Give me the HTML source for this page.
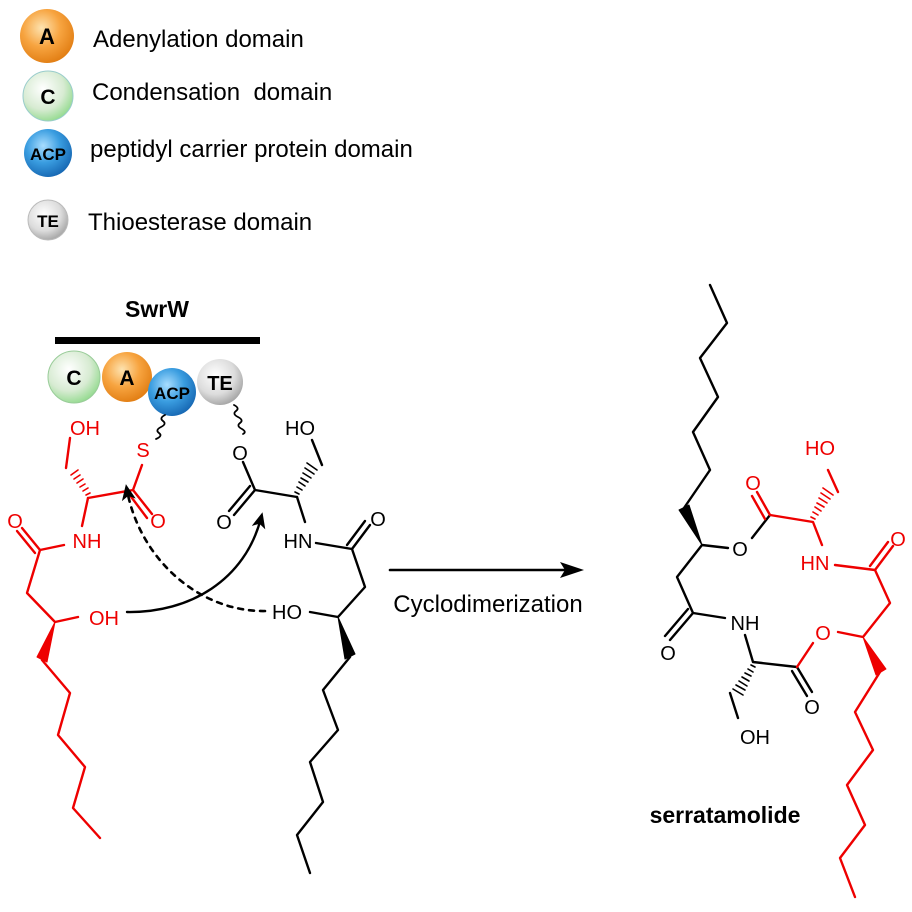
<!DOCTYPE html>
<html><head><meta charset="utf-8"><style>
html,body{margin:0;padding:0;background:#fff}
svg{display:block}
text{font-family:"Liberation Sans",Arial,sans-serif}
</style></head><body>
<svg width="912" height="912" viewBox="0 0 912 912" xmlns="http://www.w3.org/2000/svg">
<defs>
<radialGradient id="gA" cx="40%" cy="35%" r="70%"><stop offset="0" stop-color="#fde3b0"/><stop offset="0.5" stop-color="#f7a440"/><stop offset="1" stop-color="#e07b10"/></radialGradient>
<radialGradient id="gC" cx="40%" cy="35%" r="70%"><stop offset="0" stop-color="#ffffff"/><stop offset="0.6" stop-color="#d7ebd2"/><stop offset="1" stop-color="#8fd98a"/></radialGradient>
<radialGradient id="gP" cx="40%" cy="35%" r="70%"><stop offset="0" stop-color="#a8ddff"/><stop offset="0.5" stop-color="#3a9de0"/><stop offset="1" stop-color="#1464b0"/></radialGradient>
<radialGradient id="gT" cx="40%" cy="35%" r="70%"><stop offset="0" stop-color="#ffffff"/><stop offset="0.6" stop-color="#dcdcdc"/><stop offset="1" stop-color="#a0a0a0"/></radialGradient>
<marker id="ah" markerWidth="16" markerHeight="14" refX="10" refY="7" orient="auto" markerUnits="userSpaceOnUse" viewBox="0 0 16 14"><path d="M0,0 L16,7 L0,14 L4,7 Z" fill="#000"/></marker>
<marker id="ah2" markerWidth="24" markerHeight="16" refX="18" refY="8" orient="auto" markerUnits="userSpaceOnUse" viewBox="0 0 24 16"><path d="M0,0 L24,8 L0,16 L5,8 Z" fill="#000"/></marker>
</defs>

<!-- legend -->
<circle cx="47" cy="36" r="27" fill="url(#gA)"/>
<text x="47" y="44" font-size="22" font-weight="bold" text-anchor="middle">A</text>
<circle cx="48" cy="96" r="25" fill="url(#gC)" stroke="#9cc" stroke-width="1"/>
<text x="48" y="104" font-size="21" font-weight="bold" text-anchor="middle">C</text>
<circle cx="48" cy="153" r="24" fill="url(#gP)"/>
<text x="48" y="160" font-size="17" font-weight="bold" text-anchor="middle">ACP</text>
<circle cx="48" cy="220" r="20" fill="url(#gT)" stroke="#bbb" stroke-width="1"/>
<text x="48" y="227" font-size="17" font-weight="bold" text-anchor="middle">TE</text>
<text x="93" y="47" font-size="24">Adenylation domain</text>
<text x="92" y="100" font-size="24" xml:space="preserve">Condensation  domain</text>
<text x="90" y="157" font-size="24">peptidyl carrier protein domain</text>
<text x="88" y="230" font-size="24">Thioesterase domain</text>

<!-- SwrW -->
<text x="157" y="317" font-size="23" font-weight="bold" text-anchor="middle">SwrW</text>
<rect x="55" y="337" width="205" height="7" fill="#000"/>
<circle cx="74" cy="377" r="26" fill="url(#gC)" stroke="#9c9" stroke-width="1"/>
<text x="74" y="385" font-size="21" font-weight="bold" text-anchor="middle">C</text>
<circle cx="127" cy="377" r="25" fill="url(#gA)"/>
<text x="127" y="385" font-size="21" font-weight="bold" text-anchor="middle">A</text>
<circle cx="220" cy="382" r="23" fill="url(#gT)"/>
<text x="220" y="390" font-size="20" font-weight="bold" text-anchor="middle">TE</text>
<circle cx="172" cy="392" r="24" fill="url(#gP)"/>
<text x="172" y="399" font-size="17" font-weight="bold" text-anchor="middle">ACP</text>

<g fill="none" stroke-width="2.4" stroke-linejoin="round" stroke-linecap="round">
<path d="M165,415 q-6,3 -2,6 q4,3 -2,6 q-6,3 -2,6 q4,3 -3,6" stroke="#000" stroke-width="1.8"/>
<path d="M234,405 q6,3 2,6 q-4,3 2,6 q6,3 2,6 q-4,3 2,6 q5,3 1,5" stroke="#000" stroke-width="1.8"/>

<!-- left red molecule -->
<g stroke="#e00">
<path d="M70,438 L66,468"/>
<path d="M88,498 L133,490 L142,465"/>
<path d="M133,490 L152,514 M129,494 L147,518"/>
<path d="M88,498 L82,526"/>
<path d="M64,545 L40,550 L27,593 L55,622 L78,617"/>
<path d="M40,550 L22,528 M35,553 L17,531"/>
<path d="M42,660 L70,693 L58,735 L85,767 L73,808 L100,838"/>
</g>
<g stroke="#e00" stroke-width="1.6">
<path d="M86,495 L90,493 M83,491 L88,488 M80,487 L85,484 M77,483 L83,479 M74,479 L80,475 M71,475 L78,470"/>
</g>
<path d="M55,622 L37,657 L47,662 Z" fill="#e00" stroke="#e00" stroke-width="1"/>

<!-- right black monomer -->
<g stroke="#000">
<path d="M243,462 L255,490 L297,497"/>
<path d="M255,490 L234,515 M250,486 L229,511"/>
<path d="M297,497 L305,522"/>
<path d="M316,543 L352,549 L365,587 L338,617 L310,612"/>
<path d="M352,549 L370,525 M347,545 L365,521"/>
<path d="M322,465 L312,440"/>
<path d="M350,657 L323,690 L338,730 L310,762 L323,802 L297,835 L310,873"/>
</g>
<g stroke="#000" stroke-width="1.6">
<path d="M299,494 L295,492 M302,490 L297,487 M305,486 L299,482 M308,482 L301,478 M311,478 L303,473 M314,474 L305,468 M317,470 L307,463"/>
</g>
<path d="M338,617 L345,659 L355,654 Z" fill="#000" stroke="#000" stroke-width="1"/>

<!-- arrows -->
<path d="M127,612 C190,613 245,580 261,518" stroke="#000" stroke-width="2.4" marker-end="url(#ah)"/>
<path d="M265,611 C200,612 140,560 127,490" stroke="#000" stroke-width="2.6" stroke-dasharray="5,6" marker-end="url(#ah)"/>
<path d="M390,570 L578,570" stroke="#000" stroke-width="2.6" marker-end="url(#ah2)"/>

<!-- serratamolide -->
<g stroke="#000">
<path d="M710,285 L727,323 L700,358 L718,397 L693,432 L710,470 L684,508"/>
<path d="M702,545 L728,548"/>
<path d="M752,538 L770,515"/>
<path d="M702,545 L677,577 L693,613 L725,618"/>
<path d="M693,613 L670,640 M688,609 L665,636"/>
<path d="M745,635 L753,662 L797,667"/>
<path d="M797,667 L812,692 M792,671 L807,696"/>
<path d="M730,693 L738,718"/>
</g>
<path d="M702,545 L679,510 L689,505 Z" fill="#000" stroke="#000" stroke-width="1"/>
<g stroke="#000" stroke-width="1.6">
<path d="M751,665 L755,667 M748,669 L753,672 M745,673 L751,676 M742,677 L749,681 M739,681 L747,686 M736,685 L745,690 M733,689 L743,695"/>
</g>
<g stroke="#e00">
<path d="M770,515 L813,522 L822,545"/>
<path d="M770,515 L757,492 M765,519 L752,496"/>
<path d="M838,492 L828,470"/>
<path d="M835,565 L875,570 L890,603 L863,637 L838,632"/>
<path d="M875,570 L893,546 M870,566 L888,542"/>
<path d="M797,667 L813,643"/>
<path d="M880,672 L855,712 L873,750 L847,785 L865,825 L840,858 L855,897"/>
</g>
<g stroke="#e00" stroke-width="1.6">
<path d="M815,519 L811,517 M818,515 L813,512 M821,511 L815,507 M824,507 L817,503 M827,503 L819,498 M830,499 L821,493 M833,495 L823,488"/>
</g>
<path d="M863,637 L876,675 L886,669 Z" fill="#e00" stroke="#e00" stroke-width="1"/>
</g>

<!-- atom labels -->
<g font-size="20" fill="#e00" text-anchor="middle">
<text x="85" y="435">OH</text>
<text x="143" y="457">S</text>
<text x="158" y="528">O</text>
<text x="87" y="548">NH</text>
<text x="15" y="528">O</text>
<text x="104" y="625">OH</text>
<text x="753" y="490">O</text>
<text x="820" y="455">HO</text>
<text x="815" y="570">HN</text>
<text x="898" y="546">O</text>
<text x="823" y="640">O</text>
</g>
<g font-size="20" fill="#000" text-anchor="middle">
<text x="300" y="435">HO</text>
<text x="240" y="460">O</text>
<text x="224" y="529">O</text>
<text x="298" y="548">HN</text>
<text x="378" y="526">O</text>
<text x="287" y="619">HO</text>
<text x="740" y="556">O</text>
<text x="668" y="660">O</text>
<text x="745" y="630">NH</text>
<text x="812" y="714">O</text>
<text x="755" y="744">OH</text>
</g>
<text x="488" y="612" font-size="24" text-anchor="middle">Cyclodimerization</text>
<text x="725" y="823" font-size="23" font-weight="bold" text-anchor="middle">serratamolide</text>
</svg>
</body></html>
